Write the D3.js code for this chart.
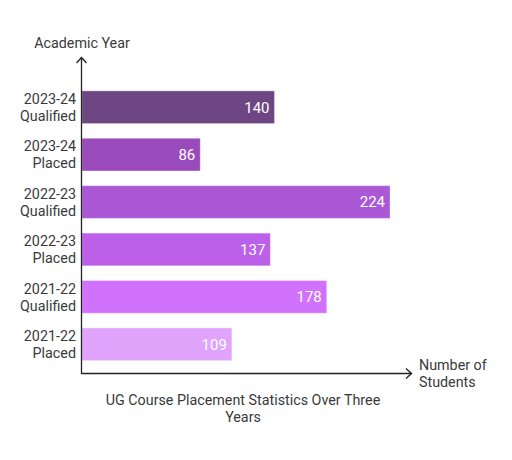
<!DOCTYPE html>
<html>
<head>
<meta charset="utf-8">
<script src="https://cdn.jsdelivr.net/npm/d3@7"></script>
<style>
  body { margin: 0; background: #fff; }
  text { font-family: Roboto, "Noto Sans", sans-serif; }
</style>
</head>
<body>
<div id="chart"></div>
<script>
// data
var years = ["2023-24", "2023-24", "2022-23", "2022-23", "2021-22", "2021-22"];
var kinds = ["Qualified", "Placed", "Qualified", "Placed", "Qualified", "Placed"];
var students = [140, 86, 224, 137, 178, 109];
var barColors = ["#6e4683", "#9a4bbb", "#aa58d6", "#bc60ea", "#d072fb", "#e0a4fc"];

var width = 512, height = 460;

var svg = d3.select("#chart").append("svg")
    .attr("width", width)
    .attr("height", height);

var rows = years.map(function(y, i) { return y + " " + kinds[i]; });

var x = d3.scaleLinear()
    .domain([0, 240])
    .range([82, 412]);

var y = d3.scaleBand()
    .domain(rows)
    .range([79, 372.5])
    .paddingInner(0.31)
    .paddingOuter(0.25);

// bars
svg.selectAll("rect.bar")
    .data(students)
    .enter().append("rect")
    .attr("class", "bar")
    .attr("x", x(0))
    .attr("y", function(d, i) { return y(rows[i]); })
    .attr("width", function(d) { return x(d) - x(0); })
    .attr("height", y.bandwidth())
    .style("fill", function(d, i) { return barColors[i]; })
    .style("stroke", "rgba(255,255,255,0.35)")
    .style("stroke-width", "1px");

// value labels
svg.selectAll("text.val")
    .data(students)
    .enter().append("text")
    .attr("class", "val")
    .attr("x", function(d) { return x(d) - 5; })
    .attr("y", function(d, i) { return y(rows[i]) + y.bandwidth() / 2; })
    .attr("dy", "0.36em")
    .attr("text-anchor", "end")
    .text(function(d) { return d; })
    .style("font-size", "15px")
    .style("fill", "white");

// category labels, two lines each
var cats = svg.selectAll("text.cat")
    .data(rows)
    .enter().append("text")
    .attr("class", "cat")
    .attr("text-anchor", "end")
    .style("font-size", "14.3px")
    .style("fill", "#3a3a3a");

cats.append("tspan")
    .attr("x", 76)
    .attr("y", function(d) { return y(d) + y.bandwidth() / 2 - 8.5; })
    .attr("dy", "0.36em")
    .text(function(d, i) { return years[i]; });

cats.append("tspan")
    .attr("x", 76)
    .attr("y", function(d) { return y(d) + y.bandwidth() / 2 + 8.5; })
    .attr("dy", "0.36em")
    .text(function(d, i) { return kinds[i]; });

// axes with arrow heads
svg.append("line")
    .attr("x1", 81.5).attr("y1", 374)
    .attr("x2", 81.5).attr("y2", 57)
    .style("stroke", "#222")
    .style("stroke-width", "1.3px");

svg.append("path")
    .attr("d", "M76.5,63 L81.5,57.5 L86.5,63")
    .style("fill", "none")
    .style("stroke", "#222")
    .style("stroke-width", "1.3px");

svg.append("line")
    .attr("x1", 81).attr("y1", 373.5)
    .attr("x2", 412).attr("y2", 373.5)
    .style("stroke", "#222")
    .style("stroke-width", "1.3px");

svg.append("path")
    .attr("d", "M406,368.5 L411.5,373.5 L406,378.5")
    .style("fill", "none")
    .style("stroke", "#222")
    .style("stroke-width", "1.3px");

// axis titles
svg.append("text")
    .attr("x", 82)
    .attr("y", 48)
    .attr("text-anchor", "middle")
    .text("Academic Year")
    .style("font-size", "14.3px")
    .style("fill", "#3a3a3a");

var xt = svg.append("text")
    .attr("text-anchor", "start")
    .style("font-size", "14.3px")
    .style("fill", "#3a3a3a");
xt.append("tspan").attr("x", 419).attr("y", 370).text("Number of");
xt.append("tspan").attr("x", 419).attr("y", 387).text("Students");

// chart title
var tt = svg.append("text")
    .attr("text-anchor", "middle")
    .style("font-size", "14.3px")
    .style("fill", "#3a3a3a");
tt.append("tspan").attr("x", 243).attr("y", 405).text("UG Course Placement Statistics Over Three");
tt.append("tspan").attr("x", 243).attr("y", 422).text("Years");
</script>
</body>
</html>
